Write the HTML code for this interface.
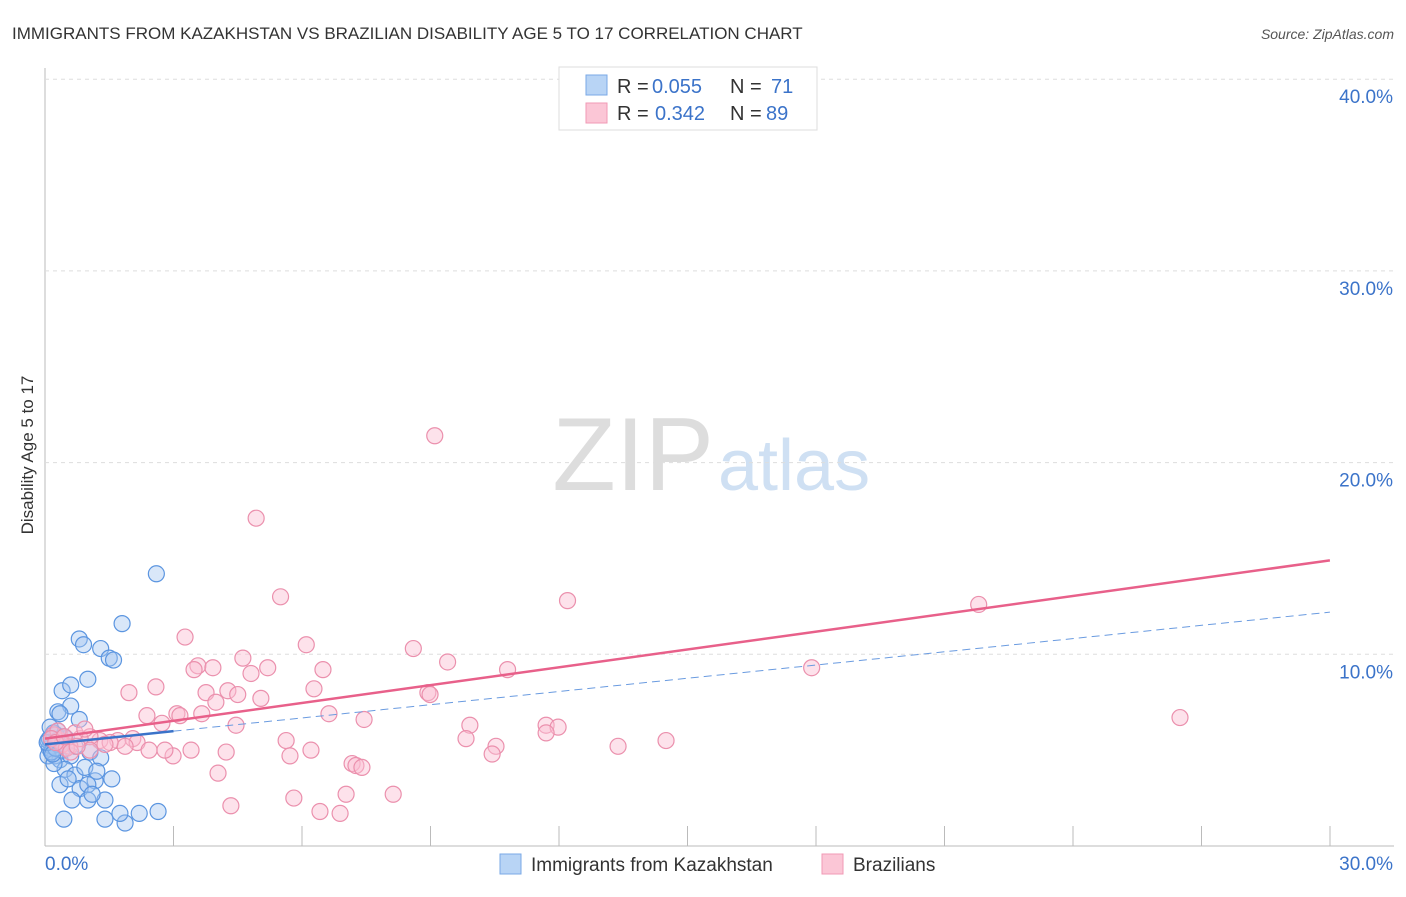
<!DOCTYPE html>
<html><head><meta charset="utf-8"><style>
body{margin:0;background:#fff;font-family:"Liberation Sans",sans-serif}
svg text{font-family:"Liberation Sans",sans-serif}
</style></head><body>
<svg width="1406" height="892">
<text x="12" y="39" font-size="17" fill="#333">IMMIGRANTS FROM KAZAKHSTAN VS BRAZILIAN DISABILITY AGE 5 TO 17 CORRELATION CHART</text>
<text x="1394" y="39" font-size="14" fill="#555" font-style="italic" text-anchor="end">Source: ZipAtlas.com</text>
<text x="33" y="455" font-size="17" fill="#333" text-anchor="middle" transform="rotate(-90 33 455)">Disability Age 5 to 17</text>
<text x="714" y="490" font-size="104" fill="#ddd" font-family="Liberation Serif" text-anchor="end">ZIP</text>
<text x="718" y="490" font-size="72" fill="#cfe0f3">atlas</text>
<g id="grid"></g><g id="pts"></g><g id="lines"></g>
<g>
<rect x="559" y="67" width="258" height="63" fill="#fff" stroke="#ddd"/>
<rect x="586" y="75" width="21" height="20" fill="#b8d4f5" stroke="#7aa8e6"/>
<rect x="586" y="103" width="21" height="20" fill="#fbc6d6" stroke="#f09ab5"/>
<text x="617" y="93" font-size="20" fill="#333">R =</text>
<text x="652" y="93" font-size="20" fill="#3b73c9">0.055</text>
<text x="730" y="93" font-size="20" fill="#333">N =</text>
<text x="771" y="93" font-size="20" fill="#3b73c9">71</text>
<text x="617" y="120" font-size="20" fill="#333">R =</text>
<text x="655" y="120" font-size="20" fill="#3b73c9">0.342</text>
<text x="730" y="120" font-size="20" fill="#333">N =</text>
<text x="766" y="120" font-size="20" fill="#3b73c9">89</text>
</g>
<g>
<rect x="500" y="854" width="21" height="20" fill="#b8d4f5" stroke="#7aa8e6"/>
<text x="531" y="871" font-size="19" fill="#333">Immigrants from Kazakhstan</text>
<rect x="822" y="854" width="21" height="20" fill="#fbc6d6" stroke="#f09ab5"/>
<text x="853" y="871" font-size="19" fill="#333">Brazilians</text>
</g>
</svg>
<script>
const yTicks=[10,20,30,40];
const xTickLabels=["0.0%","30.0%"];
const blueX=[2.6,1.8,0.8,0.9,1.3,1.5,1.6,1.0,0.4,0.6,0.6,0.3,0.35,0.8,0.3,0.5,0.15,0.1,0.23,0.35,0.6,1.05,1.3,0.47,0.7,1.17,1.56,0.35,0.82,1.0,0.63,1.0,1.4,0.44,1.4,1.87,2.2,2.64,1.75,0.16,0.07,0.26,0.4,0.07,0.21,0.7,0.93,1.21,0.54,1.1,0.1,0.2,0.3,0.15,0.25,0.05,0.45,0.12,0.18,0.28];
const blueY=[14.2,11.6,10.8,10.5,10.3,9.8,9.7,8.7,8.1,8.4,7.3,7.0,6.9,6.6,6.0,5.6,5.4,5.1,4.7,4.5,4.7,4.9,4.6,4.0,3.7,3.4,3.5,3.2,3.0,3.2,2.4,2.4,2.4,1.4,1.4,1.2,1.7,1.8,1.7,5.2,5.5,5.8,5.0,4.7,4.3,5.2,4.1,3.9,3.5,2.7,5.6,5.9,5.3,4.9,5.1,5.4,5.7,6.2,4.8,5.5];
const pinkX=[17.7,9.1,4.93,12.2,5.5,21.8,3.27,6.1,8.6,9.4,10.8,17.9,3.57,3.92,4.62,5.2,6.49,4.81,3.48,1.96,2.59,3.76,4.27,4.5,6.28,8.94,8.99,5.04,2.38,3.08,3.15,3.66,3.99,6.63,7.45,2.73,4.46,9.92,11.7,11.98,11.7,26.5,6.21,2.05,1.7,2.15,3.41,9.83,5.63,10.53,13.38,14.5,4.23,2.43,1.87,2.99,5.72,10.44,4.04,7.17,7.26,7.4,7.03,8.13,5.81,4.34,6.42,6.89,1.28,1.52,1.05,0.82,0.58,0.35,1.4,1.05,2.8,0.7,0.93,0.2,0.4,0.3,0.5,0.15,0.25,0.6,0.45,0.75];
const pinkY=[38.6,21.4,17.1,12.8,13.0,12.6,10.9,10.5,10.3,9.6,9.2,9.3,9.4,9.3,9.8,9.3,9.2,9.0,9.2,8.0,8.3,8.0,8.1,7.9,8.2,8.0,7.9,7.7,6.8,6.9,6.8,6.9,7.5,6.9,6.6,6.4,6.3,6.3,6.3,6.2,5.9,6.7,5.0,5.6,5.5,5.4,5.0,5.6,5.5,5.2,5.2,5.5,4.9,5.0,5.2,4.7,4.7,4.8,3.8,4.3,4.2,4.1,2.7,2.7,2.5,2.1,1.8,1.7,5.5,5.4,5.7,5.6,5.2,5.5,5.3,5.0,5.0,5.9,6.1,5.8,5.3,6.0,5.1,5.6,5.4,4.9,5.7,5.2];
const pinkTrend=[5.6,14.9];
const blueTrend=[5.3,12.2];
const X=v=>45+v*42.83, Y=v=>846-v*19.17;
const NS="http://www.w3.org/2000/svg";
function mk(t,a,p){const e=document.createElementNS(NS,t);for(const k in a)e.setAttribute(k,a[k]);document.getElementById(p).appendChild(e);return e;}
let ax=mk('line',{x1:45,y1:68,x2:45,y2:846,stroke:'#bbb'},'grid');


let bx=mk('line',{x1:45,y1:846,x2:1394,y2:846,stroke:'#bbb'},'grid');


for(let i=1;i<=10;i++){let t=mk('line',{x1:45+i*128.5,y1:826,x2:45+i*128.5,y2:846,stroke:'#bbb'},'grid');

}
yTicks.forEach(v=>{let g=mk('line',{x1:45,y1:Y(v),x2:1394,y2:Y(v),stroke:'#ddd','stroke-dasharray':'4,4'},'grid');


let t=mk('text',{x:1393,y:Y(v)+24,'font-size':19,fill:'#3b73c9','text-anchor':'end'},'grid');t.textContent=v.toFixed(1)+'%';

});
xTickLabels.forEach((s,i)=>{let t=mk('text',{x:i?1393:45,y:870,'font-size':19,fill:'#3b73c9','text-anchor':i?'end':'start'},'grid');t.textContent=s;

});
blueX.forEach((x,i)=>{let c=mk('circle',{cx:X(x),cy:Y(blueY[i]),r:8,fill:'rgba(160,195,240,0.4)',stroke:'#5b95e0','stroke-width':1.2},'pts');

});
pinkX.forEach((x,i)=>{let c=mk('circle',{cx:X(x),cy:Y(pinkY[i]),r:8,fill:'rgba(250,190,210,0.45)',stroke:'#eb90ad','stroke-width':1.2},'pts');

});
let l1=mk('line',{x1:X(0),y1:Y(pinkTrend[0]),x2:X(30),y2:Y(pinkTrend[1]),stroke:'#e8608a','stroke-width':2.5},'lines');


const bs=(blueTrend[1]-blueTrend[0])/30;
let l2=mk('line',{x1:X(0),y1:Y(blueTrend[0]),x2:X(3),y2:Y(blueTrend[0]+3*bs),stroke:'#3b73c9','stroke-width':2.5},'lines');


let l3=mk('line',{x1:X(3),y1:Y(blueTrend[0]+3*bs),x2:X(30),y2:Y(blueTrend[1]),stroke:'#6a9be0','stroke-width':1,'stroke-dasharray':'8,5'},'lines');


</script>
</body></html>
